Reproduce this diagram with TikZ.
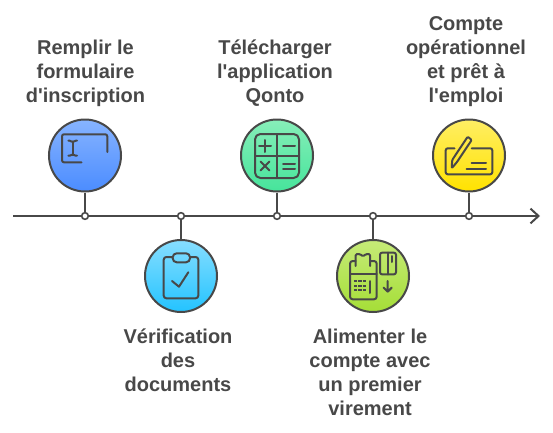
\documentclass[tikz,border=0pt]{standalone}
\usepackage{fontspec}
\setmainfont{Liberation Sans}[Ligatures=TeXOff]
\usetikzlibrary{arrows.meta}
\definecolor{ink}{HTML}{484848}
\tikzset{
  x=0.75pt,y=-0.75pt,
  disc/.style={circle,draw=ink,line width=1.5pt,minimum size=54pt,inner sep=0pt,shading=axis,shading angle=0},
  junction/.style={circle,draw=ink,fill=white,line width=1.2pt,minimum size=5pt,inner sep=0pt},
  conn/.style={draw=ink,line width=1.5pt},
  glyph/.style={draw=ink,line width=1.5pt,line cap=round,line join=round},
  caption/.style={align=center,font=\bfseries\fontsize{15}{18}\selectfont,text=ink,inner sep=0pt}
}
\begin{document}
\begin{tikzpicture}
\useasboundingbox (0,0) rectangle (553,432);
% axis
\coordinate (start) at (13,216);
\coordinate (finish) at (540,216);
\draw[conn,-{Straight Barb[length=6pt,width=11pt,line width=1.5pt]}] (start) -- (finish);
% junctions
\node[junction] (j1) at (85,216) {};
\node[junction] (j2) at (181,216) {};
\node[junction] (j3) at (277,216) {};
\node[junction] (j4) at (373,216) {};
\node[junction] (j5) at (469,216) {};
% discs
\node[disc,top color={rgb,255:red,135;green,180;blue,255},bottom color={rgb,255:red,75;green,140;blue,255}] (d1) at (85,155.5) {};
\node[disc,top color={rgb,255:red,135;green,222;blue,255},bottom color={rgb,255:red,35;green,195;blue,255}] (d2) at (181,276) {};
\node[disc,top color={rgb,255:red,135;green,238;blue,185},bottom color={rgb,255:red,70;green,228;blue,155}] (d3) at (277,155.5) {};
\node[disc,top color={rgb,255:red,198;green,235;blue,120},bottom color={rgb,255:red,165;green,222;blue,55}] (d4) at (373,276) {};
\node[disc,top color={rgb,255:red,255;green,238;blue,100},bottom color={rgb,255:red,255;green,226;blue,0}] (d5) at (469,155.5) {};
% connectors
\draw[conn] (d1) -- (j1);
\draw[conn] (d2) -- (j2);
\draw[conn] (d3) -- (j3);
\draw[conn] (d4) -- (j4);
\draw[conn] (d5) -- (j5);
% icon 1
\draw[glyph,rounded corners=1.5pt] (107.3,152) -- (107.3,134.3) -- (62,134.3) -- (62,162.3) -- (81.5,162.3);
\draw[glyph] (72.7,141.5) -- (72.7,155);
\draw[glyph,rounded corners=1pt] (68.3,140.7) -- (71,140.7) -- (72.7,142.5) -- (74.4,140.7) -- (77,140.7);
\draw[glyph,rounded corners=1pt] (68.3,155.7) -- (71,155.7) -- (72.7,154) -- (74.4,155.7) -- (77,155.7);
% icon 2
\draw[glyph,rounded corners=2pt] (172.7,257) -- (163.7,257) -- (163.7,298.3) -- (198.3,298.3) -- (198.3,257) -- (190,257);
\draw[glyph,rounded corners=3pt] (172.7,253.3) rectangle (190,262.3);
\draw[glyph] (172,281) -- (179,286.7) -- (188.3,272.3);
% icon 3
\draw[glyph,rounded corners=4pt] (255,134) rectangle (299,178);
\draw[glyph] (277,134) -- (277,178) (255,156) -- (299,156);
\draw[glyph] (259,146) -- (271,146) (265,140) -- (265,152);
\draw[glyph] (283,146) -- (295,146);
\draw[glyph] (260.5,161.5) -- (269.5,170.5) (269.5,161.5) -- (260.5,170.5);
\draw[glyph] (283,164) -- (295,164) (283,169) -- (295,169);
% icon 4
\draw[glyph,rounded corners=2pt] (355.7,261) -- (350,261) -- (350,299.3) -- (376.7,299.3) -- (376.7,261) -- (370,261);
\draw[glyph] (350,274.3) -- (376.7,274.3);
\draw[glyph,rounded corners=1pt] (355.7,266) -- (355.7,254) -- (360,254) -- (363,256.5) -- (366,254) -- (370,254) -- (370,266);
\draw[glyph,line width=1.4pt,dash pattern=on 2.6pt off 0.6pt,line cap=butt] (354,281) -- (366,281) (354,285.7) -- (366,285.7) (354,290.3) -- (366,290.3);
\draw[glyph] (370,281) -- (370,293);
\draw[glyph,rounded corners=1.5pt] (380,252.7) rectangle (396,274.3);
\draw[glyph] (388.3,252.7) -- (388.3,274.3);
\draw[glyph] (391.7,256) -- (391.7,262);
\draw[glyph] (387.7,281) -- (387.7,291.7) (383.7,287.7) -- (387.7,291.7) -- (391.7,287.7);
% icon 5
\draw[glyph,rounded corners=1.5pt] (454.5,148.3) -- (445.7,148.3) -- (445.7,174.3) -- (492.3,174.3) -- (492.3,148.3) -- (471.7,148.3);
\draw[glyph,rounded corners=0.8pt] (451.7,168.3) -- (452.2,160) -- (467.7,136.7) -- (471.7,140) -- (457,162) -- cycle;
\draw[glyph] (471.7,162.7) -- (486,162.7) (466.7,168.7) -- (486,168.7);
% captions
\node[caption] (t1) at (85.5,73.5) {Remplir le\\formulaire\\d'inscription};
\node[caption] (t2) at (178,360.5) {Vérification\\des\\documents};
\node[caption] (t3) at (275,73.5) {Télécharger\\l'application\\Qonto};
\node[caption] (t4) at (370,372.5) {Alimenter le\\compte avec\\un premier\\virement};
\node[caption] (t5) at (466,61.5) {Compte\\opérationnel\\et prêt à\\l'emploi};
\end{tikzpicture}
\end{document}
